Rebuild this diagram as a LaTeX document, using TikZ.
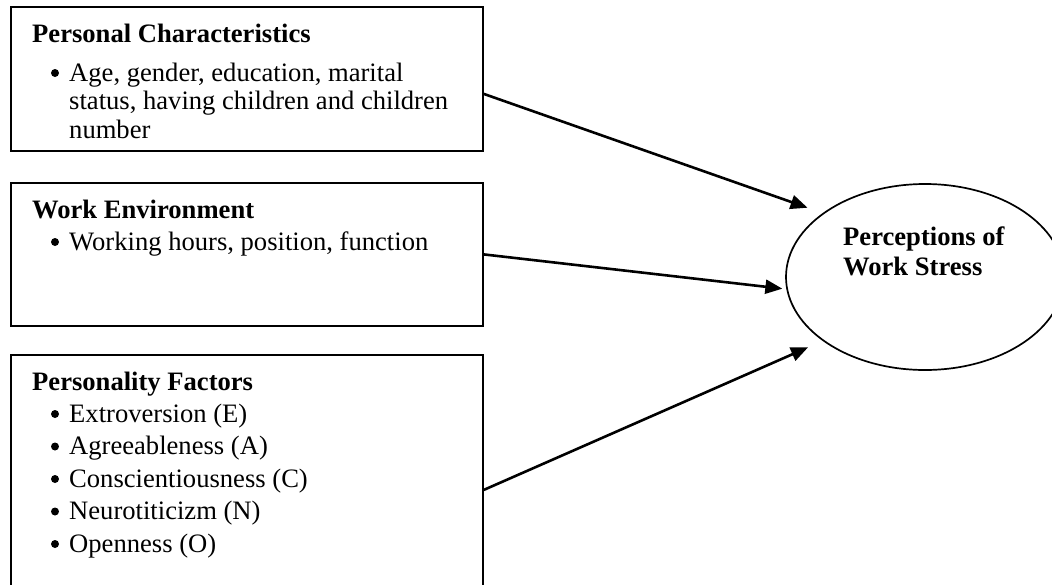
\documentclass[tikz,border=0pt]{standalone}
\usepackage{fontspec}
\setmainfont{Liberation Serif}
\usetikzlibrary{shapes.geometric,arrows.meta}
\begin{document}
\begin{tikzpicture}[x=1pt,y=-1pt,
  box/.style={draw, line width=1.8pt, rectangle, anchor=north west, inner sep=0, minimum width=472pt},
  txt/.style={anchor=base west, inner sep=0, font=\fontsize{26.6}{28}\selectfont},
  ttl/.style={anchor=base west, inner sep=0, font=\fontsize{26.6}{28}\selectfont\bfseries},
  dot/.style={circle, fill=black, inner sep=0, minimum size=8pt},
  oval/.style={draw, ellipse, line width=1.7pt, inner sep=0, minimum width=278pt, minimum height=186pt},
  arr/.style={-{Triangle[length=17pt,width=14pt]}, line width=2.6pt}]
\useasboundingbox (0,0) rectangle (1052,584);
\clip (0,0) rectangle (1052,584);
\fill[white] (0,0) rectangle (1052,584);

% boxes
\node[box, minimum height=144pt] (b1) at (10,6) {};
\node[box, minimum height=143pt] (b2) at (10,182) {};
\node[box, minimum height=270pt] (b3) at (10,354) {};

% ellipse
\node[oval] (e) at (925,277) {};
\node[ttl] (et1) at (843,245) {Perceptions of};
\node[ttl] (et2) at (843,275) {Work Stress};

% box 1 text
\node[ttl] (t1) at (32,42) {Personal Characteristics};
\node[dot] (d1) at (55,73) {};
\node[txt] (t1a) at (69,81) {Age, gender, education, marital};
\node[txt] (t1b) at (69,109.5) {status, having children and children};
\node[txt] (t1c) at (69,138) {number};

% box 2 text
\node[ttl] (t2) at (32,218) {Work Environment};
\node[dot] (d2) at (55,242) {};
\node[txt] (t2a) at (69,250) {Working hours, position, function};

% box 3 text
\node[ttl] (t3) at (32,390) {Personality Factors};
\node[dot] (d3a) at (55,414) {};
\node[txt] (t3a) at (69,422) {Extroversion (E)};
\node[dot] (d3b) at (55,446.5) {};
\node[txt] (t3b) at (69,454.5) {Agreeableness (A)};
\node[dot] (d3c) at (55,479) {};
\node[txt] (t3c) at (69,487) {Conscientiousness (C)};
\node[dot] (d3d) at (55,511.5) {};
\node[txt] (t3d) at (69,519.5) {Neurotiticizm (N)};
\node[dot] (d3e) at (55,544) {};
\node[txt] (t3e) at (69,552) {Openness (O)};

% connectors
\draw[arr, shorten >=16pt] ([yshift=-15pt]b1.east) -- (e.148);
\draw[arr, shorten >=4pt] (b2.east) -- (e.185);
\draw[arr, shorten >=16pt] (b3.east) -- (e.212);
\end{tikzpicture}
\end{document}
